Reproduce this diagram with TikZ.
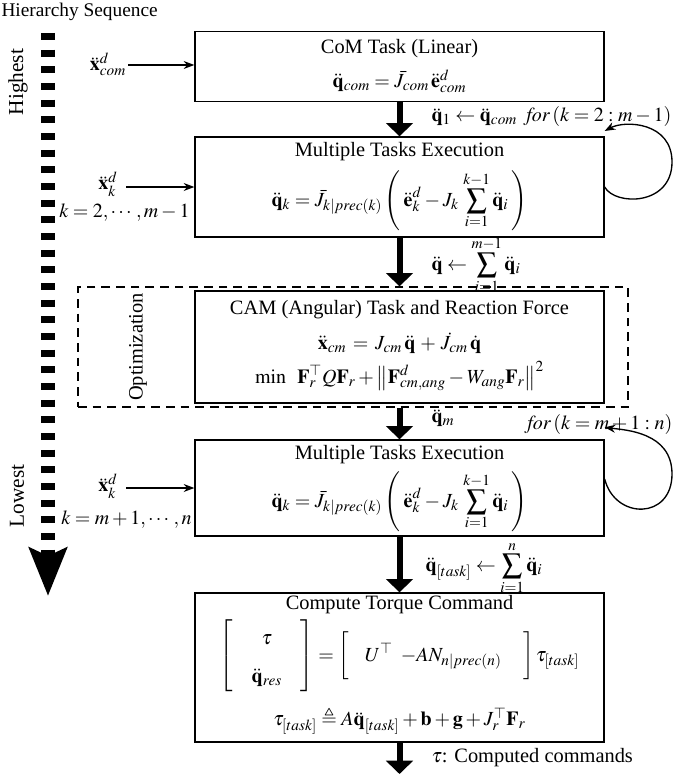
\documentclass[tikz,border=0pt]{standalone}
\usepackage{amsmath}
\usepackage{mathptmx}
\usepackage{amssymb}
\usepackage{fontspec}
\setmainfont{Liberation Serif}
\usetikzlibrary{arrows.meta}
\DeclareMathSizes{15}{15}{11.5}{9}
\DeclareMathSizes{15.3}{15}{11.5}{9}

\tikzset{every picture/.style={line width=0.75pt}}
\tikzset{
  taskbox/.style={draw, line width=1pt, minimum width=306.75pt, inner sep=0pt},
  optbox/.style={draw, line width=1pt, dash pattern=on 6.5pt off 4.5pt, inner sep=0pt},
  txt/.style={inner sep=0.75pt},
  eqn/.style={inner sep=0.75pt, font=\fontsize{15}{18}\selectfont},
  flowarrow/.style={line width=4.5pt, -{Triangle[width=20pt,length=10pt]}},
  inarrow/.style={line width=1pt, -{Stealth[length=8pt,width=6pt]}},
  looparrow/.style={line width=1pt, -{Stealth[length=8pt,width=6pt]}},
}
\newcommand{\qdd}{\ddot{\mathbf{q}}}
\newcommand{\qsum}[1]{\displaystyle\sum_{i=1}^{#1}\qdd_{i}}
\newcommand{\taskeq}{\displaystyle \qdd_{k} = \bar{J}_{k|prec(k)}\left(\mskip3mu\ddot{\mathbf{e}}^{d}_{k} - J_{k}\,\qsum{k-1}\mskip3mu\right)}

\begin{document}
\begin{tikzpicture}[x=0.75pt,y=0.75pt,yscale=-1,xscale=1,font=\fontsize{15.3}{18}\selectfont]
\useasboundingbox (0,0) rectangle (674,774);

% Hierarchy arrow
\draw (0,2) node [anchor=north west][txt] (hs) {\fontsize{14.5}{16}\selectfont Hierarchy Sequence};
\coordinate (htop) at (48,33);
\coordinate (hbot) at (48,596);
\draw [line width=10.5pt, dash pattern=on 5.25pt off 7.25pt, -{Stealth[length=36pt,width=28pt,inset=6pt]}] (htop) -- (hbot);
\draw (18,82) node [rotate=90][txt] (hi) {\fontsize{16}{16}\selectfont Highest};
\draw (17,496) node [rotate=90][txt] (lo) {\fontsize{16}{16}\selectfont Lowest};

%Shape: Rectangle (CoM task)
\node [taskbox, minimum height=52.5pt] (b1) at (399.5,66.5) {};
% Text Node
\draw (399.5,49) node [txt] (b1t) {CoM Task (Linear)};
% Text Node
\draw (399.5,81) node [eqn] (b1e) {$\qdd_{com} = \bar{J}_{com}\,\ddot{\mathbf{e}}^{d}_{com}$};

%Shape: Rectangle (tasks 2..m-1)
\node [taskbox, minimum height=75pt] (b2) at (399.5,187) {};
% Text Node
\draw (399.5,152) node [txt] (b2t) {Multiple Tasks Execution};
% Text Node
\draw (399.5,201) node [eqn] (b2e) {$\taskeq$};

%Shape: Dashed rectangle (optimization)
\node [optbox, minimum width=412.5pt, minimum height=90pt] (opt) at (353,347) {};
\draw (138,347) node [rotate=90][txt] (optl) {Optimization};

%Shape: Rectangle (CAM task)
\node [taskbox, minimum height=84pt] (b3) at (399.5,347) {};
% Text Node
\draw (399.5,310) node [txt] (b3t) {CAM (Angular) Task and Reaction Force};
% Text Node
\draw (399.5,343) node [eqn] (b3e) {$\ddot{\mathbf{x}}_{cm} \,=\, J_{cm}\,\qdd \,+\, \dot{J}_{cm}\,\dot{\mathbf{q}}$};
% Text Node
\draw (399.5,376) node [eqn] (b3f) {$\min\;\; \mathbf{F}_{r}^{\top}Q\mathbf{F}_{r} + \left\|\mathbf{F}^{d}_{cm,ang} - W_{ang}\mathbf{F}_{r}\right\|^{2}$};

%Shape: Rectangle (tasks m+1..n)
\node [taskbox, minimum height=72pt] (b4) at (399.5,488) {};
% Text Node
\draw (399.5,455) node [txt] (b4t) {Multiple Tasks Execution};
% Text Node
\draw (399.5,502) node [eqn] (b4e) {$\taskeq$};

%Shape: Rectangle (torque)
\node [taskbox, minimum height=111.75pt] (b5) at (399.5,667.5) {};
% Text Node
\draw (399.5,605) node [txt] (b5t) {Compute Torque Command};
% Text Node
\draw (399.5,656) node [eqn] (b5e) {$\renewcommand{\arraystretch}{1.55}\setlength{\arraycolsep}{14pt}
  \left[\begin{array}{c} \tau \\ \qdd_{res} \end{array}\right] = \left[\vrule height 14pt depth 12pt width 0pt\hspace{12pt} U^{\top}\hspace{6pt} {-AN_{n|prec(n)}}\hspace{16pt}\right]\tau_{[task]}$};
% Text Node
\draw (399.5,721) node [eqn] (b5f) {$\tau_{[task]} \triangleq A\qdd_{[task]} + \mathbf{b} + \mathbf{g} + J_{r}^{\top}\mathbf{F}_{r}$};
\coordinate (out) at (399.5,774);

% inputs
\draw (108,64) node [eqn] (x1) {$\ddot{\mathbf{x}}^{d}_{com}$};
\draw [inarrow] (128,65) -- (b1.west |- 0,65);
\draw (108,184) node [eqn] (x2) {$\ddot{\mathbf{x}}^{d}_{k}$};
\draw (191,213) node [anchor=east][eqn] (k2) {$k = 2,\cdots,m-1$};
\draw [inarrow] (126,187) -- (b2.west);
\draw (108,486) node [eqn] (x4) {$\ddot{\mathbf{x}}^{d}_{k}$};
\draw (193,520) node [anchor=east][eqn] (k4) {$k = m+1,\cdots,n$};
\draw [inarrow] (126,488) -- (b4.west);

% flow arrows
\draw [flowarrow] (b1) -- (b2);
\draw [flowarrow] (b2) -- (b2 |- opt.north);
\draw [flowarrow] (b3 |- opt.south) -- (b4);
\draw [flowarrow] (b4) -- (b5);
\draw [flowarrow] (b5) -- (out);

% arrow labels
\draw (430,117) node [anchor=west][eqn] (a1) {$\qdd_{1} \leftarrow \qdd_{com}$};
\draw (673,116) node [anchor=east][eqn] (f1) {$\mathit{for}\,(k = 2 : m-1)$};
\draw (430,265) node [anchor=west][eqn] (a2) {$\qdd \leftarrow \qsum{m-1}$};
\draw (430,418) node [anchor=west][eqn] (a3) {$\qdd_{m}$};
\draw (674,424) node [anchor=east][eqn] (f2) {$\mathit{for}\,(k = m+1 : n)$};
\draw (424,568) node [anchor=west][eqn] (a4) {$\qdd_{[task]} \leftarrow \qsum{n}$};
\draw (430,758) node [anchor=west][txt] (a5) {$\tau$: Computed commands};

% loops
\draw [looparrow] (b2.east) .. controls (615,206) and (672,206) .. (672,162) .. controls (672,122) and (625,120) .. ([yshift=-4pt]b2.north east);
\draw [looparrow] ([yshift=-6.75pt]b4.east) .. controls (615,520) and (672,520) .. (672,474) .. controls (672,432) and (625,430) .. ([yshift=-9pt]b4.north east);

\end{tikzpicture}
\end{document}
